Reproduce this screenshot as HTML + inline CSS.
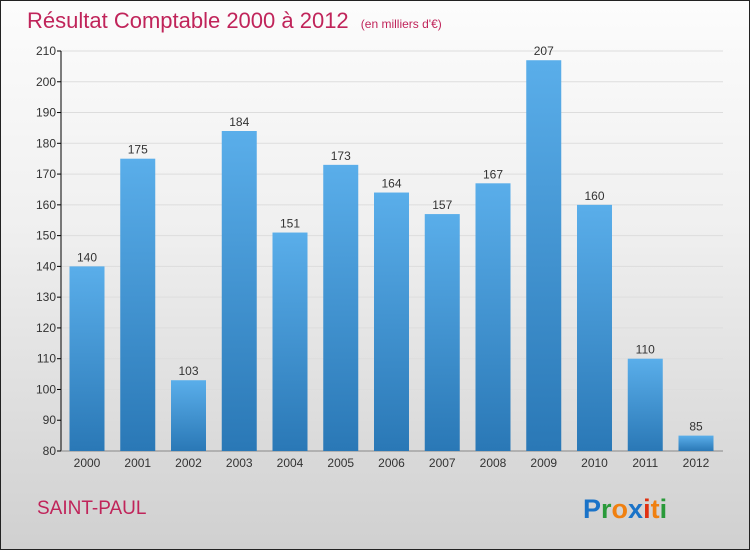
<!DOCTYPE html>
<html><head><meta charset="utf-8"><style>
body{margin:0}
#root{width:750px;height:550px;position:relative;box-sizing:border-box;border:1px solid #222;background:linear-gradient(#fcfcfc,#f0f0f0 40%,#d0d0d0);font-family:"Liberation Sans",sans-serif;overflow:hidden}
</style></head><body>
<div id="root">
<svg width="750" height="550" style="position:absolute;left:0;top:0" id="svg">
<defs><linearGradient id="bg" x1="0" y1="0" x2="0" y2="1"><stop offset="0" stop-color="#5aaeea"/><stop offset="1" stop-color="#2a78b6"/></linearGradient></defs>
<text x="26" y="27" font-size="22" fill="#c0245a">Résultat Comptable 2000 à 2012 <tspan font-size="12" dx="6">(en milliers d'€)</tspan></text>
<text x="36" y="513" font-size="19" fill="#c0245a">SAINT-PAUL</text>
<text x="582" y="517" font-size="27" font-weight="bold"><tspan fill="#1a73c8">P</tspan><tspan fill="#2a9a3a">r</tspan><tspan fill="#f08010">o</tspan><tspan fill="#1a73c8">x</tspan><tspan fill="#e03010">i</tspan><tspan fill="#f08010">t</tspan><tspan fill="#2a9a3a">i</tspan></text>
<g id="g"></g>
</svg>
</div>
<script>
const categories=["2000","2001","2002","2003","2004","2005","2006","2007","2008","2009","2010","2011","2012"];
const values=[140,175,103,184,151,173,164,157,167,207,160,110,85];
const yTicks=[80,90,100,110,120,130,140,150,160,170,180,190,200,210];
const yMin=80,yMax=210,yTop=50,yBottom=450,x0=86,step=50.75,bw=35;
const yS=v=>yBottom-(v-yMin)/(yMax-yMin)*(yBottom-yTop);
const xS=i=>x0+i*step;
const g=document.getElementById('g');const ns='http://www.w3.org/2000/svg';
function mk(t,a){const e=document.createElementNS(ns,t);for(const k in a)e.setAttribute(k,a[k]);g.appendChild(e);return e;}
yTicks.forEach(t=>{
const l=mk('line',{x1:60,x2:722,y1:yS(t),y2:yS(t),stroke:'#ddd','stroke-width':1});


const tk=mk('line',{x1:56,x2:60,y1:yS(t),y2:yS(t),stroke:'#000'});


const tx=mk('text',{x:55,y:yS(t)+4,'font-size':12,'text-anchor':'end',fill:'#333'});tx.textContent=t;


});
const ax=mk('line',{x1:60,x2:60,y1:yTop,y2:yBottom,stroke:'#000'});


const xa=mk('line',{x1:60,x2:722,y1:yBottom,y2:yBottom,stroke:'#888'});


categories.forEach((c,i)=>{
const b=mk('rect',{x:xS(i)-bw/2,y:yS(values[i]),width:bw,height:yBottom-yS(values[i]),fill:'url(#bg)'});


const v=mk('text',{x:xS(i),y:yS(values[i])-5,'font-size':12,'text-anchor':'middle',fill:'#333'});v.textContent=values[i];


const t=mk('text',{x:xS(i),y:466,'font-size':12,'text-anchor':'middle',fill:'#333'});t.textContent=c;


});
</script>
</body></html>
